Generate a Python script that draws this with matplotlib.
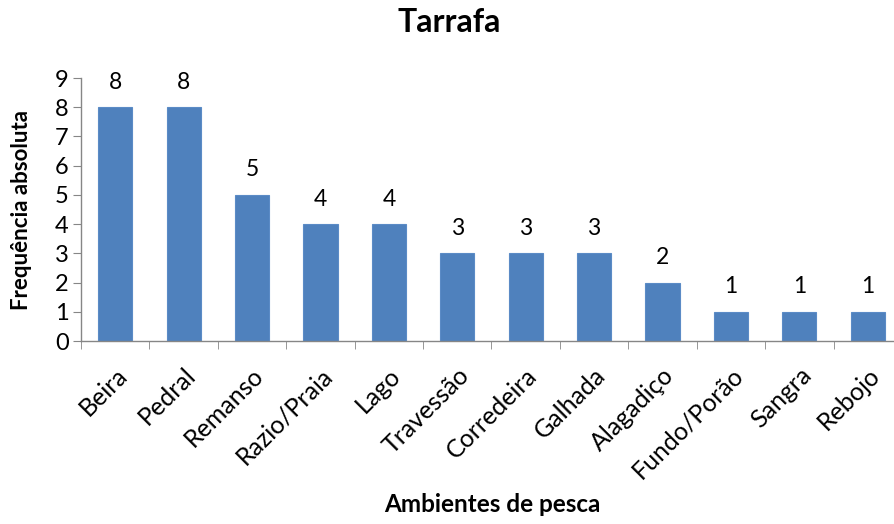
import matplotlib
matplotlib.use("Agg")
import matplotlib.pyplot as plt
import matplotlib.transforms as mtransforms
import numpy as np

categories = ["Beira", "Pedral", "Remanso", "Razio/Praia", "Lago", "Travessão",
              "Corredeira", "Galhada", "Alagadiço", "Fundo/Porão", "Sangra", "Rebojo"]
values = [8, 8, 5, 4, 4, 3, 3, 3, 2, 1, 1, 1]
yticks = list(range(0, 10))

plt.rcParams['font.family'] = ['Lato', 'DejaVu Sans']

fig = plt.figure(figsize=(8.94, 5.24), dpi=100)
ax = fig.add_axes([81/894, (524-341)/524, (902-81)/894, (341-78)/524])

x = np.arange(len(categories))
ax.bar(x, values, width=0.5, color="#4F81BD", edgecolor="#5B8BC6", linewidth=0.8, zorder=2)
for xi, v in zip(x, values):
    ax.text(xi, v + 0.5, str(v), ha="center", va="bottom", fontsize=16.5, color="#000000")

ax.set_xlim(-0.5, len(categories) - 0.5)
ax.set_ylim(0, 9)
ax.set_yticks(yticks)
ax.set_yticklabels([str(t) for t in yticks], fontsize=17)
ax.set_xticks(x)
ax.set_xticklabels(categories, rotation=45, ha="right", va="center", rotation_mode="anchor", fontsize=18)
ax.tick_params(axis="x", which="major", length=0, pad=22)
offset = mtransforms.ScaledTranslation(8/100, 0, fig.dpi_scale_trans)
for lbl in ax.get_xticklabels():
    lbl.set_transform(lbl.get_transform() + offset)
ax.set_xticks(np.arange(-0.5, len(categories), 1), minor=True)
ax.tick_params(axis="x", which="minor", length=6, color="#868686", direction="out")
ax.tick_params(axis="y", length=6, color="#868686", direction="out", pad=3)

for s in ["top", "right"]:
    ax.spines[s].set_visible(False)
for s in ["left", "bottom"]:
    ax.spines[s].set_color("#868686")
    ax.spines[s].set_linewidth(1.0)

fig.text(22/894, 1 - 210/524, "Frequência absoluta", ha="center", va="center", rotation=90,
         fontsize=16, fontweight="bold")
fig.text(492/894, 1 - 505/524, "Ambientes de pesca", ha="center", va="center", fontsize=17.5, fontweight="bold")
fig.text(449/894, 1 - 22/524, "Tarrafa", ha="center", va="center", fontsize=23, fontweight="bold")

fig.savefig("out.png", dpi=100)
